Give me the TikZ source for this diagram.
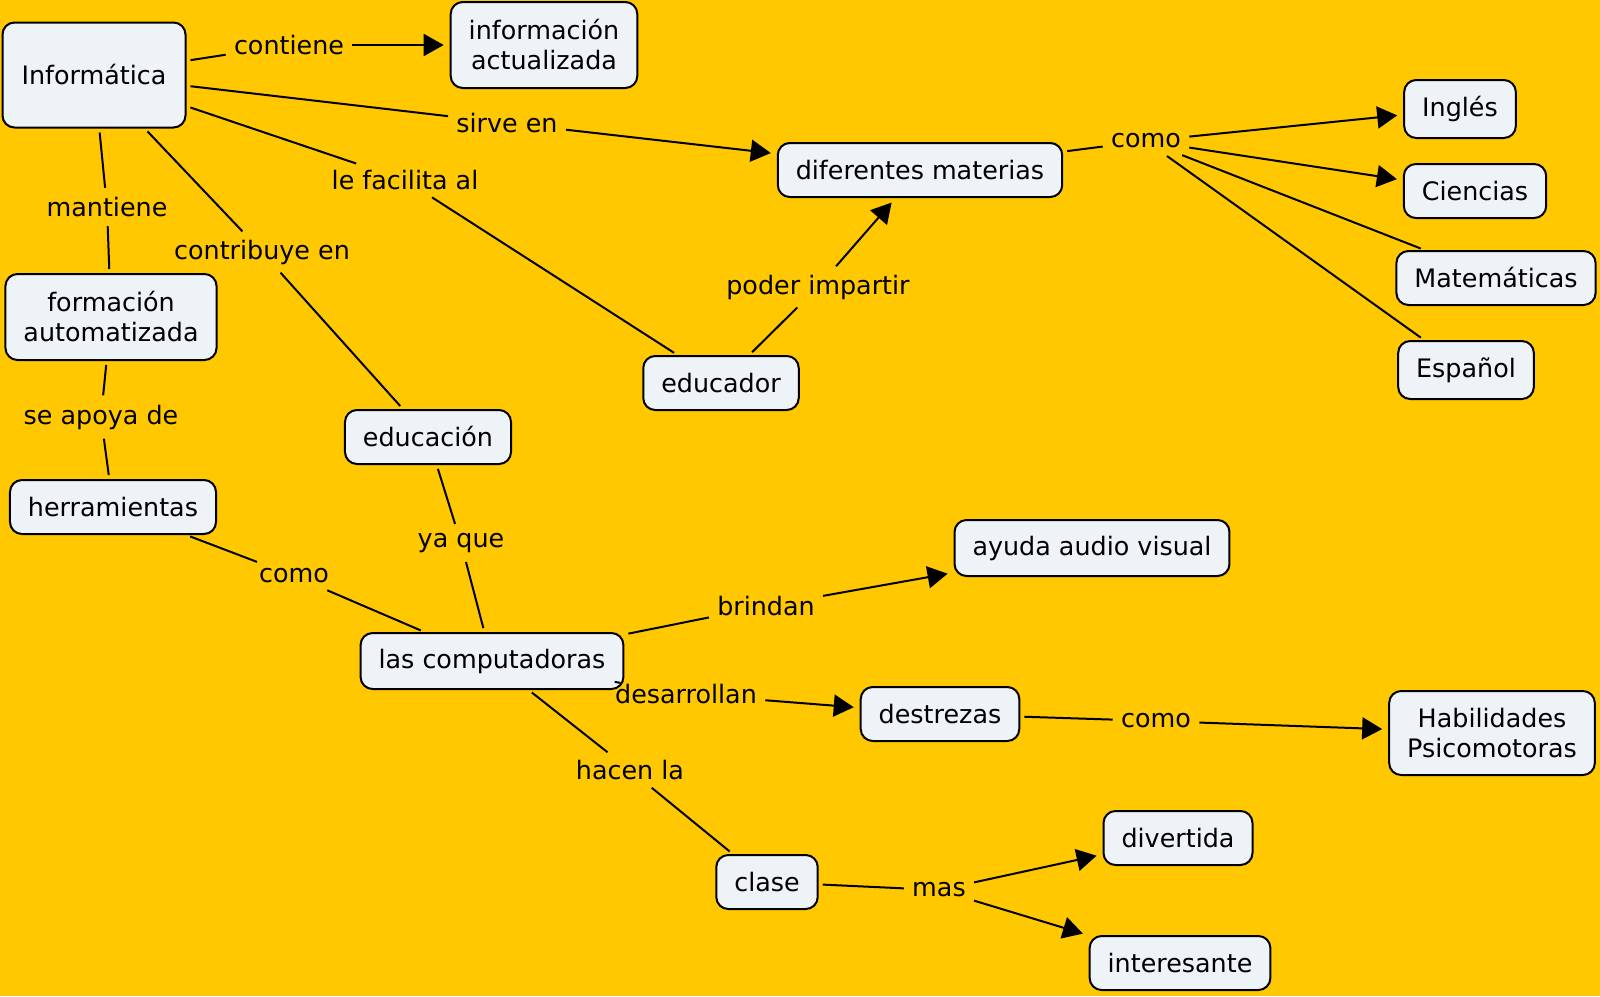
\documentclass[tikz,border=0pt]{standalone}
\usepackage{fontspec}
\setmainfont{DejaVu Sans}
\usetikzlibrary{arrows.meta}
\definecolor{mapbg}{RGB}{255,200,0}
\definecolor{boxfill}{RGB}{238,243,247}

\begin{document}
\begin{tikzpicture}[x=0.5pt,y=-0.5pt,>={Triangle[length=10pt,width=11pt]},
 concept/.style={draw,line width=1pt,fill=boxfill,rounded corners=6pt,
  align=center,inner xsep=9pt,inner ysep=4pt,minimum height=27pt,
  font=\fontsize{12.7}{15}\selectfont},
 linkword/.style={inner xsep=2pt,inner ysep=2.5pt,font=\fontsize{12.7}{15}\selectfont},
 conn/.style={line width=1pt,shorten <=2pt,shorten >=2pt},
 connto/.style={line width=1pt,->,shorten <=2pt,shorten >=3pt}]
 \fill[mapbg] (0,0) rectangle (1600,996);
 \useasboundingbox (0,0) rectangle (1600,996);
 % concepts
 \node[concept,minimum width=91.5pt,minimum height=52.5pt] (info) at (94,75) {Informática};
 \node[concept,minimum height=43pt] (infoact) at (544,45) {información\\actualizada};
 \node[concept] (difmat) at (920,170) {diferentes materias};
 \node[concept,minimum height=29pt] (ingles) at (1460,109) {Inglés};
 \node[concept] (ciencias) at (1475,191) {Ciencias};
 \node[concept] (matem) at (1496,278) {Matemáticas};
 \node[concept,minimum height=29pt] (espanol) at (1466,370) {Español};
 \node[concept] (educador) at (721,383) {educador};
 \node[concept,minimum height=43pt] (formacion) at (111,317) {formación\\automatizada};
 \node[concept] (educacion) at (428,437) {educación};
 \node[concept] (herram) at (113,507) {herramientas};
 \node[concept,minimum height=28pt] (ayuda) at (1092,548) {ayuda audio visual};
 \node[concept,minimum height=28pt] (comput) at (492,661) {las computadoras};
 \node[concept] (destrezas) at (940,714) {destrezas};
 \node[concept,minimum height=42pt] (habil) at (1492,733) {Habilidades\\Psicomotoras};
 \node[concept] (clase) at (767,882) {clase};
 \node[concept] (divert) at (1178,838) {divertida};
 \node[concept] (interes) at (1180,963) {interesante};
 % linking words
 \node[linkword] (lcontiene) at (289,45) {contiene};
 \node[linkword] (lsirve) at (507,123) {sirve en};
 \node[linkword] (lfacilita) at (405,180) {le facilita al};
 \node[linkword] (lmantiene) at (107,207) {mantiene};
 \node[linkword] (lcontribuye) at (262,252) {contribuye en};
 \node[linkword] (lpoder) at (818,287) {poder impartir};
 \node[linkword] (lcomoa) at (1146,141) {como};
 \node[linkword] (lapoya) at (101,417) {se apoya de};
 \node[linkword] (lyaque) at (461,543) {ya que};
 \node[linkword] (lcomob) at (294,576) {como};
 \node[linkword] (lbrindan) at (766,606) {brindan};
 \node[linkword] (ldesarrollan) at (686,694) {desarrollan};
 \node[linkword] (lcomoc) at (1156,721) {como};
 \node[linkword] (lhacen) at (630,770) {hacen la};
 \node[linkword] (lmas) at (939,890) {mas};
 % links
 \draw[conn] (info) -- (lcontiene);
 \draw[connto] (lcontiene) -- (infoact);
 \draw[conn] (info) -- (lsirve);
 \draw[connto] (lsirve) -- (difmat);
 \draw[conn] (info) -- (lfacilita);
 \draw[conn] (lfacilita) -- (educador);
 \draw[conn] (educador) -- (lpoder);
 \draw[connto] (lpoder) -- (difmat);
 \draw[conn] (info) -- (lmantiene);
 \draw[conn] (lmantiene) -- (formacion);
 \draw[conn] (info) -- (lcontribuye);
 \draw[conn] (lcontribuye) -- (educacion);
 \draw[conn] (difmat) -- (lcomoa);
 \draw[connto] (lcomoa) -- (ingles);
 \draw[connto] (lcomoa) -- (ciencias);
 \draw[conn] (lcomoa) -- (matem);
 \draw[conn] (lcomoa) -- (espanol);
 \draw[conn] (formacion) -- (lapoya);
 \draw[conn] (lapoya) -- (herram);
 \draw[conn] (herram) -- (lcomob);
 \draw[conn] (lcomob) -- (comput);
 \draw[conn] (educacion) -- (lyaque);
 \draw[conn] (lyaque) -- (comput);
 \draw[conn] (comput) -- (lbrindan);
 \draw[connto] (lbrindan) -- (ayuda);
 \draw[conn] (comput) -- (ldesarrollan);
 \draw[connto] (ldesarrollan) -- (destrezas);
 \draw[conn] (destrezas) -- (lcomoc);
 \draw[connto] (lcomoc) -- (habil);
 \draw[conn] (comput) -- (lhacen);
 \draw[conn] (lhacen) -- (clase);
 \draw[conn] (clase) -- (lmas);
 \draw[connto] (lmas) -- (divert);
 \draw[connto] (lmas) -- (interes);
\end{tikzpicture}
\end{document}
